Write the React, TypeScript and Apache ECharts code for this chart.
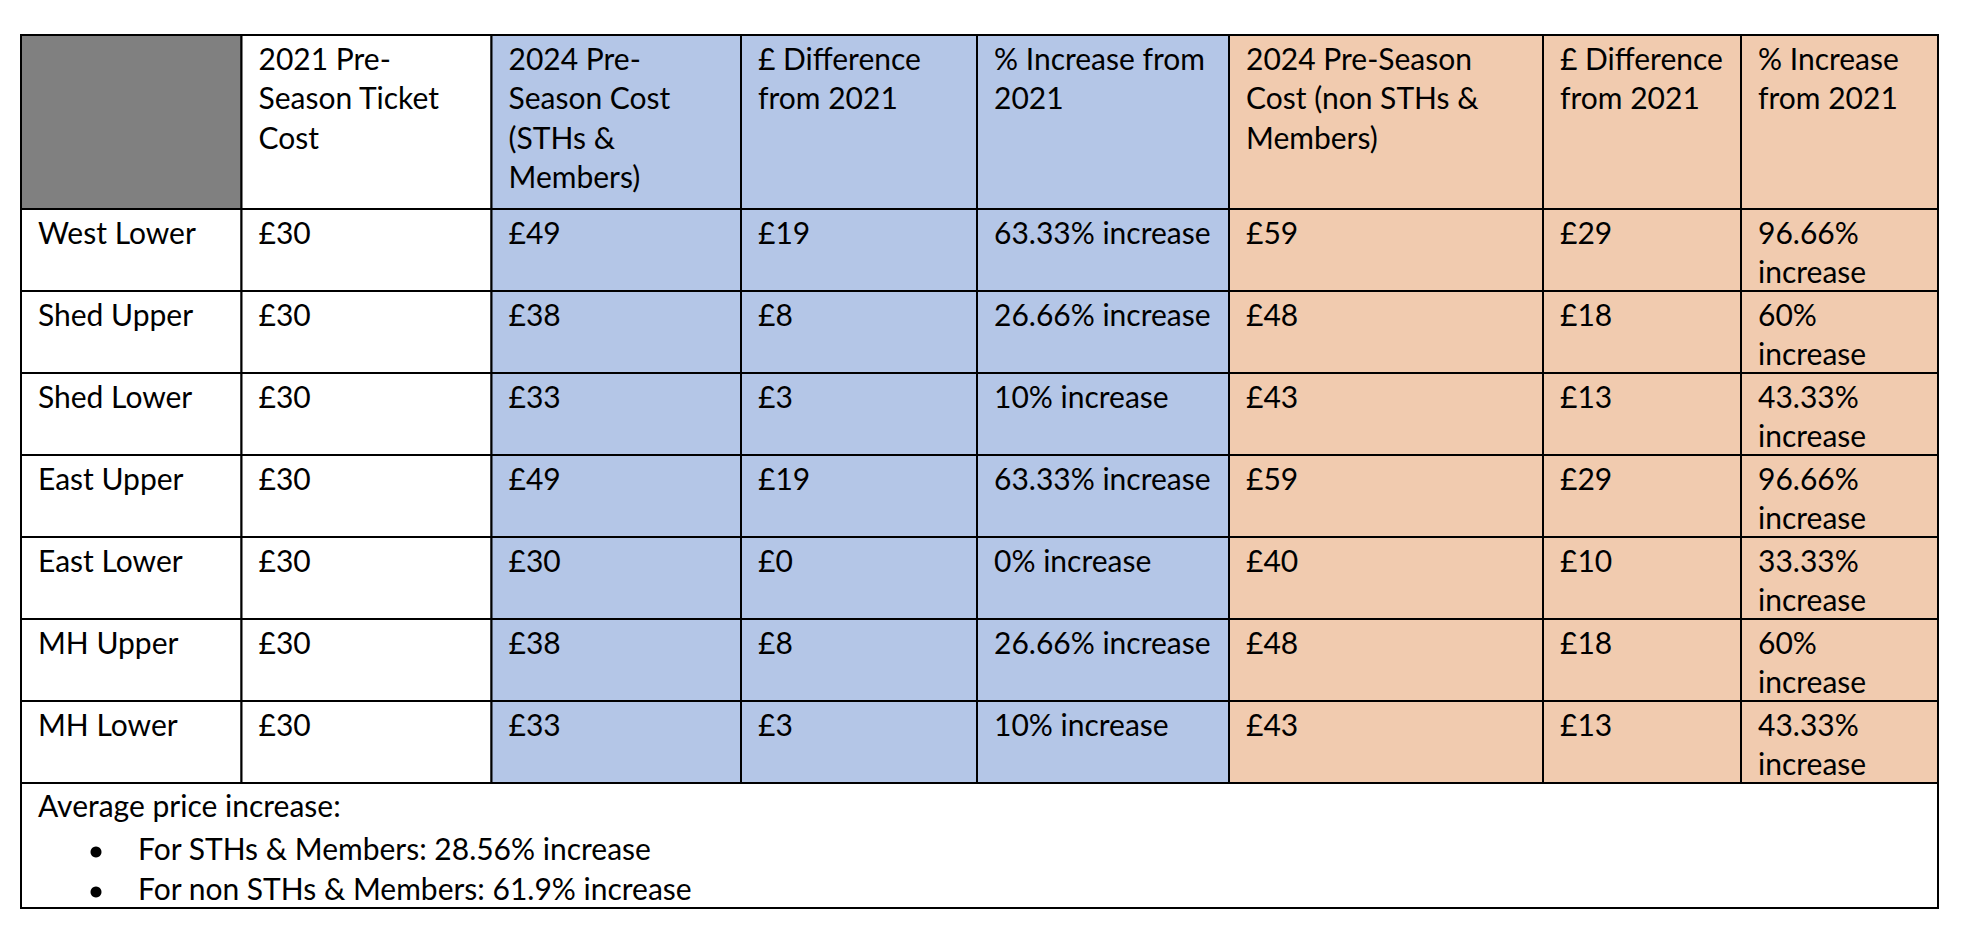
import React, { useEffect, useRef } from "react";
import * as echarts from "echarts";

// ---------- data ----------
const headers = [
  "",
  "2021 Pre-\nSeason Ticket\nCost",
  "2024 Pre-\nSeason Cost\n(STHs &\nMembers)",
  "£ Difference\nfrom 2021",
  "% Increase from\n2021",
  "2024 Pre-Season\nCost (non STHs &\nMembers)",
  "£ Difference\nfrom 2021",
  "% Increase\nfrom 2021",
];
const stands = ["West Lower", "Shed Upper", "Shed Lower", "East Upper", "East Lower", "MH Upper", "MH Lower"];
const cost2021 = [30, 30, 30, 30, 30, 30, 30];
const costSTH2024 = [49, 38, 33, 49, 30, 38, 33];
const diffSTH = [19, 8, 3, 19, 0, 8, 3];
const pctSTH = [63.33, 26.66, 10, 63.33, 0, 26.66, 10];
const costNon2024 = [59, 48, 43, 59, 40, 48, 43];
const diffNon = [29, 18, 13, 29, 10, 18, 13];
const pctNon = [96.66, 60, 43.33, 96.66, 33.33, 60, 43.33];
const summaryTitle = "Average price increase:";
const summaryLabels = ["For STHs & Members", "For non STHs & Members"];
const summaryValues = [28.56, 61.9];

// ---------- layout / style ----------
const TABLE_LEFT = 21;
const TABLE_TOP = 35;
const COL_X = [0, 220.5, 470.5, 720, 956, 1208, 1522, 1720, 1917];
const ROW_Y = [0, 174, 256, 338, 420, 502, 584, 666, 748, 873];
const FONT = "Lato";
const FONT_SIZE = 30;
const LINE_H = 39.5;
const PAD_X = 17;
const PAD_TOP = 3;
const GREY = "#808080";
const BLUE = "#B4C6E7";
const ORANGE = "#F1CBAF";
const colFill = (c: number) => (c >= 5 ? ORANGE : c >= 2 ? BLUE : "#FFFFFF");

function buildCells() {
  const cells: any[] = [];
  headers.forEach((h, c) => {
    cells.push({ value: [c, 0], text: h, fill: c === 0 ? GREY : colFill(c) });
  });
  stands.forEach((s, i) => {
    const r = i + 1;
    const row = [
      s,
      `£${cost2021[i]}`,
      `£${costSTH2024[i]}`,
      `£${diffSTH[i]}`,
      `${pctSTH[i]}% increase`,
      `£${costNon2024[i]}`,
      `£${diffNon[i]}`,
      `${pctNon[i]}%\nincrease`,
    ];
    row.forEach((t, c) => cells.push({ value: [c, r], text: t, fill: colFill(c) }));
  });
  cells.push({ value: [-1, 8], text: summaryTitle, fill: "#FFFFFF", footer: true });
  return cells;
}

export default function App() {
  const ref = useRef<HTMLDivElement>(null);
  useEffect(() => {
    if (!ref.current) return;
    const chart = echarts.init(ref.current, undefined, { renderer: "svg" });
    const cells = buildCells();
    const textStyle = (text: string) => ({
      text,
      fill: "#000000",
      fontFamily: FONT,
      fontSize: FONT_SIZE,
      lineHeight: LINE_H,
      align: "left",
      verticalAlign: "top",
    });
    chart.setOption({
      animation: false,
      backgroundColor: "#FFFFFF",
      grid: { left: TABLE_LEFT, top: TABLE_TOP, width: COL_X[8], height: ROW_Y[9] },
      xAxis: { type: "value", min: 0, max: COL_X[8], show: false },
      yAxis: { type: "value", min: 0, max: ROW_Y[9], inverse: true, show: false },
      series: [
        {
          type: "custom",
          data: cells,
          renderItem: (params: any, api: any) => {
            const cell = cells[params.dataIndex];
            const c = api.value(0);
            const r = api.value(1);
            if (cell.footer) {
              const p0 = api.coord([COL_X[0], ROW_Y[r]]);
              const p1 = api.coord([COL_X[8], ROW_Y[r + 1]]);
              const children: any[] = [
                {
                  type: "rect",
                  shape: { x: p0[0], y: p0[1], width: p1[0] - p0[0], height: p1[1] - p0[1] },
                  style: { fill: cell.fill, stroke: "#000", lineWidth: 2 },
                },
                { type: "text", x: p0[0] + PAD_X, y: p0[1] + 2, style: textStyle(cell.text) },
              ];
              summaryLabels.forEach((lab, i) => {
                const ly = p0[1] + 2 + 43 + i * 40;
                children.push({
                  type: "circle",
                  shape: { cx: p0[0] + 75, cy: ly + 24, r: 5.5 },
                  style: { fill: "#000" },
                });
                children.push({
                  type: "text",
                  x: p0[0] + 117,
                  y: ly,
                  style: textStyle(`${lab}: ${summaryValues[i]}% increase`),
                });
              });
              return { type: "group", children };
            }
            const p0 = api.coord([COL_X[c], ROW_Y[r]]);
            const p1 = api.coord([COL_X[c + 1], ROW_Y[r + 1]]);
            return {
              type: "group",
              children: [
                {
                  type: "rect",
                  shape: { x: p0[0], y: p0[1], width: p1[0] - p0[0], height: p1[1] - p0[1] },
                  style: { fill: cell.fill, stroke: "#000", lineWidth: 2 },
                },
                { type: "text", x: p0[0] + PAD_X, y: p0[1] + PAD_TOP, style: textStyle(cell.text) },
              ],
            };
          },
        },
      ],
    });
    return () => chart.dispose();
  }, []);
  return (
    <div
      ref={ref}
      style={{ position: "fixed", left: 0, top: 0, width: 1962, height: 932, background: "#fff" }}
    />
  );
}
